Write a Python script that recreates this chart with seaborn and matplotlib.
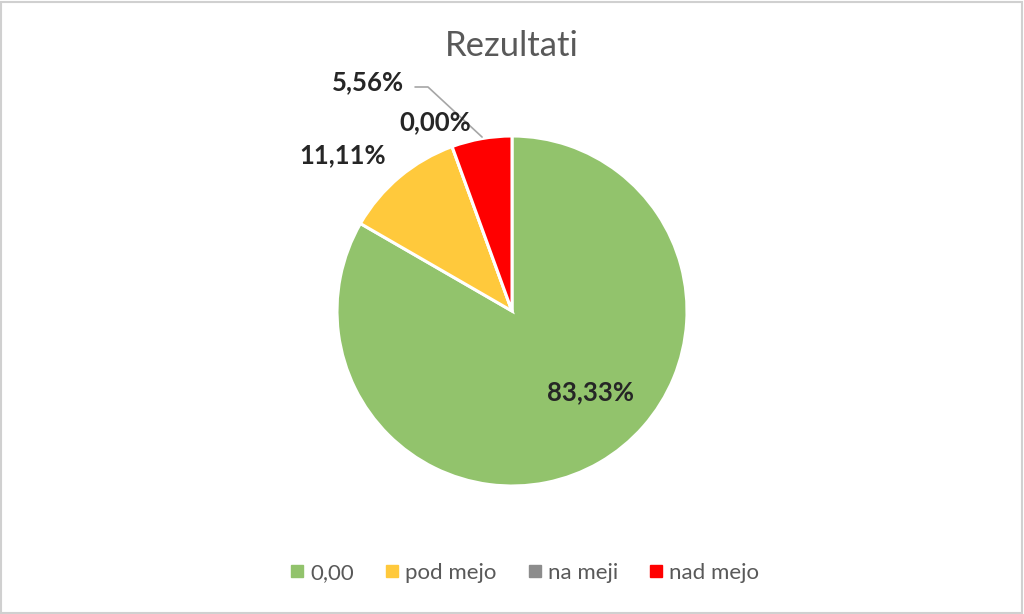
import matplotlib
matplotlib.use("Agg")
import matplotlib.pyplot as plt
from matplotlib.lines import Line2D
from matplotlib.patches import Rectangle
import seaborn as sns

categories = ["0,00", "pod mejo", "na meji", "nad mejo"]
values = [83.33, 11.11, 0.00, 5.56]
colors = ["#92C36C", "#FFC93C", "#8C8C8C", "#FF0000"]
title = "Rezultati"

sns.set_theme(style="white")
plt.rcParams["font.family"] = ["Lato", "DejaVu Sans"]

fig = plt.figure(figsize=(10.24, 6.14), dpi=100)
fig.patch.set_facecolor("white")
fig.add_artist(Rectangle((0.001, 0.002), 0.997, 0.995, transform=fig.transFigure,
                         fill=False, edgecolor="#D0D0D0", linewidth=1.5))

cx, cy, r = 512 / 1024, (614 - 311) / 614, 175
w, h = r / 1024, r / 614
ax = fig.add_axes([cx - w, cy - h, 2 * w, 2 * h])
ax.pie(values, colors=colors, startangle=90, counterclock=False, radius=1,
       wedgeprops=dict(edgecolor="white", linewidth=2.2))
ax.set_xlim(-1, 1)
ax.set_ylim(-1, 1)
ax.set_aspect("equal")
ax.axis("off")

def fmt(v):
    return f"{v:.2f}".replace(".", ",") + "%"

label_pos = [(0.446, -0.463), (-0.97, 0.891), (-0.44, 1.08), (-0.823, 1.309)]
for v, (x, y) in zip(values, label_pos):
    ax.text(x, y, fmt(v), ha="center", va="center", fontsize=18.5,
            fontweight="bold", color="#262626", clip_on=False)

# leader line for the small red slice label
ax.plot([-0.554, -0.48, -0.171], [1.28, 1.28, 0.994], color="#A6A6A6",
        linewidth=1.2, clip_on=False)

fig.text(0.5, 1 - 46 / 614, title, ha="center", va="center", fontsize=25,
         color="#595959")

handles = [Line2D([0], [0], marker="s", linestyle="", markersize=8,
                  markerfacecolor=c, markeredgecolor=c) for c in colors]
fig.legend(handles, categories, loc="center", bbox_to_anchor=(0.511, 1 - 573 / 614),
           ncol=4, frameon=False, fontsize=16, handletextpad=0.15,
           columnspacing=1.25, labelcolor="#595959", handlelength=0.9)

fig.savefig("out.png", dpi=100, facecolor="white")
